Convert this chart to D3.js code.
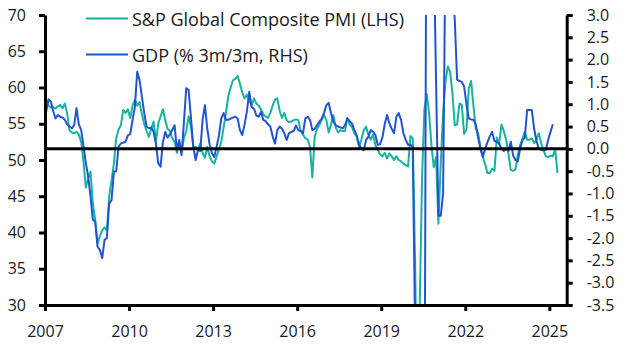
<!DOCTYPE html>
<html>
<head>
<meta charset="utf-8">
<script src="https://cdn.jsdelivr.net/npm/d3@7"></script>
<style>
  html, body { margin: 0; padding: 0; background: #fff; }
  svg { display: block; font-family: "Open Sans", "Noto Sans", sans-serif; }
</style>
</head>
<body>
<svg id="chart" width="629" height="355"></svg>
<script>
// ---- Data (monthly, starting January 2007) ----
const startYear = 2007;
const pmiLabel = "S&P Global Composite PMI (LHS)";
const gdpLabel = "GDP (% 3m/3m, RHS)";

// S&P Global Composite PMI (LHS), Jan 2007 – Apr 2025
const pmiValues = [
  58.3, 57.5, 57.2, 57.3, 57.1, 57.4, 57.6, 57.1, 57.8, 56.4, 54.1, 53.8,
  53.7, 53.9, 53.5, 52.5, 49.7, 46.2, 47.5, 48.4, 44.0, 41.7, 38.5, 39.5,
  40.3, 40.7, 40.3, 45.0, 47.2, 49.5, 53.0, 54.2, 54.8, 56.9, 56.5, 57.0,
  55.8, 57.5, 58.3, 57.5, 58.0, 56.3, 55.0, 54.0, 53.2, 54.3, 55.3, 52.5,
  55.0, 56.0, 57.0, 55.5, 54.3, 54.0, 53.0, 52.5, 51.0, 52.3, 51.2, 53.0,
  54.0, 56.0, 54.6, 51.8, 51.8, 51.4, 52.3, 51.0, 50.3, 51.8, 50.5, 49.8,
  49.5, 50.5, 51.5, 52.5, 54.5, 56.5, 58.8, 60.0, 61.0, 61.2, 61.6, 60.5,
  59.3, 58.5, 59.0, 58.2, 57.5, 58.5, 57.8, 57.5, 57.0, 56.3, 56.0, 55.8,
  56.5, 57.5, 58.3, 58.5, 56.8, 55.8, 56.5, 55.5, 55.2, 55.3, 55.5, 55.6,
  55.5, 54.0, 53.5, 53.0, 52.8, 51.8, 47.6, 53.2, 54.3, 54.8, 55.5, 56.2,
  55.5, 53.8, 54.9, 56.2, 54.5, 53.8, 54.1, 54.0, 54.0, 55.8, 54.9, 54.5,
  53.7, 53.2, 51.8, 52.8, 54.1, 54.6, 53.5, 52.8, 53.5, 52.1, 51.4, 50.8,
  50.5, 51.0, 50.2, 50.9, 50.5, 50.0, 50.5, 50.0, 49.8, 49.5, 49.3, 49.1,
  53.3, 53.0, 36.0, 13.8, 30.0, 47.7, 57.0, 59.1, 56.5, 52.1, 49.0, 50.4,
  41.2, 49.6, 56.4, 60.7, 62.9, 62.2, 59.2, 54.8, 54.9, 57.8, 57.6, 53.6,
  54.2, 59.9, 60.9, 57.5, 54.3, 53.7, 51.8, 50.5, 49.4, 48.2, 48.2, 48.8,
  48.5, 53.1, 52.2, 54.9, 54.0, 52.8, 50.8, 48.6, 48.5, 48.7, 50.7, 52.1,
  52.9, 53.9, 52.8, 52.8, 53.0, 52.3, 52.8, 53.7, 52.3, 51.4, 50.5, 50.4,
  50.6, 50.5, 51.5, 48.2
];

// GDP (% 3m/3m, RHS), Jan 2007 – Feb 2025
const gdpValues = [
  0.83, 1.11, 1.06, 0.85, 0.68, 0.76, 0.72, 0.70, 0.65, 0.55, 0.50, 0.46,
  0.53, 0.91, 0.55, 0.42, 0.05, -0.32, -0.62, -1.07, -1.59, -1.63, -2.19, -2.27,
  -2.45, -2.04, -2.00, -1.22, -1.15, -0.51, -0.50, 0.05, 0.12, 0.14, 0.16, 0.30,
  0.33, 0.65, 0.94, 1.73, 1.54, 1.17, 0.80, 0.50, 0.46, 0.48, 0.38, 0.12,
  -0.32, -0.40, 0.15, 0.38, 0.25, 0.33, 0.42, 0.53, -0.03, 0.20, -0.14, 0.60,
  1.36, 1.32, 0.70, 0.05, -0.25, -0.03, -0.05, 0.65, 0.98, 0.45, 0.10, -0.10,
  -0.18, 0.05, 0.30, 0.68, 0.80, 0.65, 0.65, 0.68, 0.70, 0.72, 0.68, 0.42,
  0.31, 0.55, 0.85, 1.28, 0.94, 0.90, 0.75, 0.72, 0.83, 0.65, 0.62, 0.55,
  0.50, 0.28, 0.12, 0.42, 0.50, 0.45, 0.35, 0.20, 0.35, 0.38, 0.40, 0.52,
  0.42, 0.40, 0.35, 0.68, 0.72, 0.65, 0.42, 0.45, 0.53, 0.61, 0.68, 0.80,
  0.98, 1.03, 0.80, 0.61, 0.53, 0.50, 0.48, 0.46, 0.53, 0.68, 0.62, 0.57,
  0.42, 0.30, 0.10, 0.01, -0.03, 0.20, 0.27, 0.42, 0.38, 0.31, 0.09, 0.10,
  0.25, 0.55, 0.76, 0.57, 0.45, 0.35, 0.72, 0.80, 0.65, 0.35, 0.20, 0.09,
  0.09, 0.05, -4.0, -10.5, -19.5, -20.0, -7.5, 8.5, 15.6, 12.0, 4.5, 1.5,
  -1.5, -1.5, -1.0, 4.5, 5.5, 4.8, 3.6, 2.9, 1.55, 1.52, 1.50, 1.40,
  1.00, 0.68, 0.66, 0.65, 0.55, 0.25, 0.00, -0.18, 0.00, 0.15, 0.28, 0.38,
  0.18, 0.15, 0.12, 0.00, -0.05, 0.00, -0.05, 0.16, -0.15, -0.25, -0.28, 0.00,
  0.20, 0.25, 0.87, 0.87, 0.87, 0.45, 0.18, 0.00, -0.02, -0.03, -0.02, 0.20,
  0.38, 0.55
];

const xTickValues = [2007, 2010, 2013, 2016, 2019, 2022, 2025];
const leftTickValues = [30, 35, 40, 45, 50, 55, 60, 65, 70];
const rightTickValues = [-3.5, -3.0, -2.5, -2.0, -1.5, -1.0, -0.5, 0.0, 0.5, 1.0, 1.5, 2.0, 2.5, 3.0];

// ---- Layout ----
const W = 629, H = 355;
const plot = { left: 45, right: 566.7, top: 15, bottom: 305 };
const tealColor = "#17b3a0";
const blueColor = "#2353cf";

const svg = d3.select("#chart");

const toDate = i => startYear + (i + 0.5) / 12;
const pmiData = pmiValues.map((v, i) => ({ t: toDate(i), v }));
const gdpData = gdpValues.map((v, i) => ({ t: toDate(i), v }));

const x = d3.scaleLinear().domain([2007, 2025.62]).range([plot.left, plot.right]);
const yL = d3.scaleLinear().domain([30, 70]).range([plot.bottom, plot.top]);
const yR = d3.scaleLinear().domain([-3.5, 3.0]).range([plot.bottom, plot.top]);

svg.append("defs").append("clipPath").attr("id", "clip")
  .append("rect")
  .attr("x", plot.left).attr("y", plot.top)
  .attr("width", plot.right - plot.left).attr("height", plot.bottom - plot.top);

const g = svg.append("g").attr("clip-path", "url(#clip)");

const linePmi = d3.line().x(d => x(d.t)).y(d => yL(d.v));
const lineGdp = d3.line().x(d => x(d.t)).y(d => yR(d.v));

g.append("path").datum(pmiData)
  .attr("d", linePmi)
  .attr("fill", "none").attr("stroke", tealColor).attr("stroke-width", 2)
  .attr("stroke-linejoin", "round");

g.append("path").datum(gdpData)
  .attr("d", lineGdp)
  .attr("fill", "none").attr("stroke", blueColor).attr("stroke-width", 2)
  .attr("stroke-linejoin", "round");

// zero line (RHS 0)
svg.append("line")
  .attr("x1", plot.left).attr("x2", plot.right)
  .attr("y1", yR(0)).attr("y2", yR(0))
  .attr("stroke", "#000").attr("stroke-width", 3);

// ---- Axes ----
function styleAxis(sel) {
  sel.select(".domain").attr("stroke", "#000").attr("stroke-width", 3);
  sel.selectAll(".tick line").attr("stroke", "#000").attr("stroke-width", 3);
  sel.selectAll(".tick text")
    .attr("fill", "#1a1a1a")
    .style("font-size", "16px")
    .style("font-family", '"Open Sans", "Noto Sans", sans-serif');
}

const axL = svg.append("g").attr("transform", `translate(${plot.left},0)`)
  .call(d3.axisLeft(yL).tickValues(leftTickValues).tickSize(6).tickSizeOuter(0).tickPadding(13).tickFormat(d3.format("d")));
styleAxis(axL);

const axR = svg.append("g").attr("transform", `translate(${plot.right},0)`)
  .call(d3.axisRight(yR).tickValues(rightTickValues).tickSize(6).tickSizeOuter(0).tickPadding(14)
    .tickFormat(d => d3.format(".1f")(d).replace("−", "-")));
styleAxis(axR);

const axB = svg.append("g").attr("transform", `translate(0,${plot.bottom})`)
  .call(d3.axisBottom(x).tickValues(xTickValues).tickSize(6).tickSizeOuter(0).tickPadding(15).tickFormat(d3.format("d")));
styleAxis(axB);

// ---- Legend ----
const legend = svg.append("g");
const legendItems = [
  { label: pmiLabel, color: tealColor, y: 18.5 },
  { label: gdpLabel, color: blueColor, y: 54.5 }
];
legendItems.forEach(it => {
  legend.append("line")
    .attr("x1", 86).attr("x2", 128)
    .attr("y1", it.y).attr("y2", it.y)
    .attr("stroke", it.color).attr("stroke-width", 2);
  legend.append("text")
    .attr("x", 132).attr("y", it.y + 7)
    .attr("fill", "#1a1a1a")
    .style("font-size", "18px")
    .text(it.label);
});
</script>
</body>
</html>
